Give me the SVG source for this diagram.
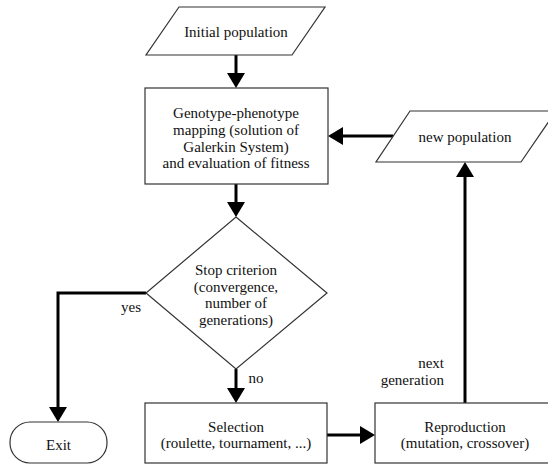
<svg xmlns="http://www.w3.org/2000/svg" width="548" height="465" viewBox="0 0 548 465" font-family="'Liberation Serif', 'Times New Roman', 'DejaVu Serif', serif">
<style>
.shape{fill:#fff;stroke:#333;stroke-width:1.2}
text{font-family:'Liberation Serif','Times New Roman','DejaVu Serif',serif;font-size:15px;fill:#111;text-anchor:middle}
.end{text-anchor:end}
.conn{fill:none;stroke:#000;stroke-width:3}
</style>
<defs>
<marker id="ah" viewBox="0 0 15 18" markerWidth="15" markerHeight="18" refX="2" refY="9" orient="auto" markerUnits="userSpaceOnUse">
<path d="M0,0 L15,9 L0,18 z" fill="#000"/>
</marker>
</defs>
<rect width="548" height="465" fill="#fff"/>
<g id="connectors">
<path class="conn" d="M236,55 V75" marker-end="url(#ah)"/>
<path class="conn" d="M236,184 V204" marker-end="url(#ah)"/>
<path class="conn" d="M236,369 V390" marker-end="url(#ah)"/>
<path class="conn" d="M146,293 H58 V409" marker-end="url(#ah)"/>
<path class="conn" d="M327,435 H362" marker-end="url(#ah)"/>
<path class="conn" d="M465,403 V175" marker-end="url(#ah)"/>
<path class="conn" d="M393,136 H341" marker-end="url(#ah)"/>
<text x="131" y="312">yes</text>
<text x="256" y="383">no</text>
<text class="end" x="444" y="368">next</text>
<text class="end" x="444" y="385">generation</text>
</g>
<g id="initial">
<polygon class="shape" points="179,7 325,7 292,55 146,55"/>
<text x="236" y="37">Initial population</text>
</g>
<g id="genotype">
<rect class="shape" x="145" y="88" width="183" height="96"/>
<text x="236" y="118">Genotype-phenotype</text>
<text x="236" y="135">mapping (solution of</text>
<text x="236" y="151.5">Galerkin System)</text>
<text x="236" y="168">and evaluation of fitness</text>
</g>
<g id="newpop">
<polygon class="shape" points="410,111 556,111 521,162 376,162"/>
<text x="465" y="142">new population</text>
</g>
<g id="stop">
<polygon class="shape" points="236,217 327,293 236,369 146,293"/>
<text x="236" y="275">Stop criterion</text>
<text x="236" y="291.5">(convergence,</text>
<text x="236" y="308">number of</text>
<text x="236" y="324.5">generations)</text>
</g>
<g id="exit">
<rect class="shape" x="10" y="422" width="97" height="41" rx="20" ry="20"/>
<text x="58.5" y="450">Exit</text>
</g>
<g id="selection">
<rect class="shape" x="145" y="403" width="182" height="60"/>
<text x="236" y="432">Selection</text>
<text x="236" y="448">(roulette, tournament, ...)</text>
</g>
<g id="reproduction">
<rect class="shape" x="375" y="403" width="181" height="60"/>
<text x="465" y="432">Reproduction</text>
<text x="465" y="448">(mutation, crossover)</text>
</g>
</svg>
